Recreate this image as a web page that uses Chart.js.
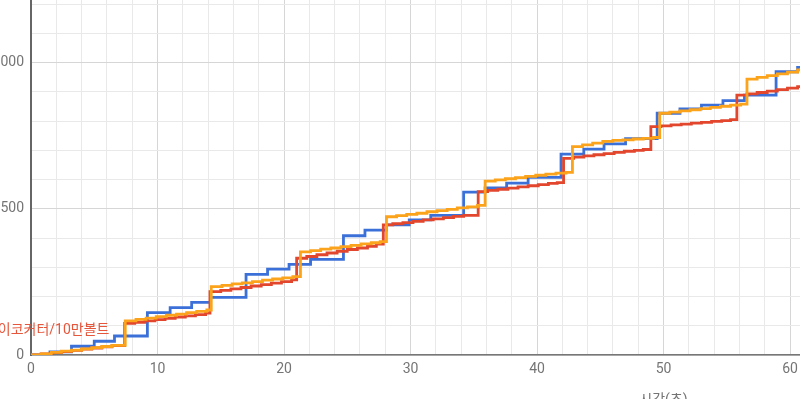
<!DOCTYPE html>
<html>
<head>
<meta charset="utf-8">
<script src="https://cdn.jsdelivr.net/npm/chart.js@4"></script>
<style>
  html, body { margin: 0; padding: 0; background: #fff; overflow: hidden; width: 800px; height: 399px; }
  #wrap { position: absolute; left: -40px; top: -30px; width: 1356px; height: 450px; }
</style>
</head>
<body>
<div id="wrap"><canvas id="myChart"></canvas></div>
<script>
// step times (s) and cumulative values
const blueT = [0, 1.5, 3.2, 5.0, 6.6, 9.2, 11.0, 12.7, 14.2, 17.0, 18.7, 20.4, 22.1, 24.7, 26.4, 28.1, 29.9, 31.6, 34.2, 35.9, 37.6, 39.3, 41.9, 43.7, 45.3, 47.0, 49.5, 51.3, 53.0, 54.7, 56.4, 58.9, 60.6, 62];
const blueV = [0, 11, 30, 47, 65, 145, 162, 180, 197, 276, 294, 310, 327, 408, 427, 445, 462, 478, 557, 572, 588, 608, 687, 704, 722, 740, 827, 842, 855, 870, 889, 969, 984, 984];

const redT = [0, 0.8, 1.6, 2.4, 3.2, 4.0, 4.8, 5.6, 6.4,
  7.4, 8.2, 9.0, 9.8, 10.6, 11.4, 12.2, 13.0, 13.8,
  14.15, 15.0, 15.8, 16.6, 17.4, 18.2, 19.0, 19.8, 20.6,
  21.0, 21.8, 22.6, 23.4, 24.2, 25.0, 25.8, 26.6, 27.3,
  27.85, 28.6, 29.4, 30.2, 31.0, 31.8, 32.6, 33.4, 34.2,
  35.35, 36.1, 36.9, 37.7, 38.5, 39.3, 40.1, 40.9, 41.6,
  42.1, 42.9, 43.7, 44.5, 45.3, 46.1, 46.9, 47.7, 48.4,
  49.0, 49.8, 50.6, 51.4, 52.2, 53.0, 53.8, 54.6, 55.3,
  55.8, 56.6, 57.4, 58.2, 59.0, 59.8, 60.6, 61.4, 62];
const redV = [0, 4, 8, 12, 16, 20, 24, 28, 32,
  108, 112, 117, 121, 125, 130, 134, 138, 143,
  217, 221, 226, 231, 236, 241, 246, 251, 257,
  331, 337, 343, 349, 355, 361, 366, 372, 379,
  445, 449, 453, 457, 462, 466, 470, 474, 478,
  559, 563, 567, 571, 575, 579, 583, 587, 590,
  673, 677, 681, 685, 689, 693, 697, 700, 703,
  781, 784, 787, 790, 793, 796, 799, 802, 805,
  889, 893, 898, 903, 908, 913, 918, 923, 923];

const orangeT = [0, 0.8, 1.6, 2.4, 3.2, 4.0, 4.8, 5.6, 6.4,
  7.45, 8.3, 9.1, 9.9, 10.7, 11.5, 12.3, 13.1, 13.9,
  14.25, 15.1, 15.9, 16.7, 17.5, 18.3, 19.1, 19.9, 20.7,
  21.3, 22.1, 22.9, 23.7, 24.5, 25.3, 26.1, 26.9, 27.6,
  28.1, 28.9, 29.7, 30.5, 31.3, 32.1, 32.9, 33.7, 34.5, 35.3,
  35.9, 36.7, 37.5, 38.3, 39.1, 39.9, 40.7, 41.5, 42.3,
  42.8, 43.6, 44.4, 45.2, 46.0, 46.8, 47.6, 48.4, 49.2,
  49.7, 50.5, 51.3, 52.1, 52.9, 53.7, 54.5, 55.3, 56.1,
  56.6, 57.4, 58.2, 59.0, 59.8, 60.6, 61.4, 62];
const orangeV = [0, 4, 9, 13, 17, 21, 25, 29, 33,
  117, 122, 126, 131, 136, 140, 145, 149, 154,
  234, 238, 243, 247, 251, 256, 260, 264, 268,
  353, 357, 362, 366, 371, 375, 380, 384, 388,
  473, 477, 481, 485, 490, 494, 498, 503, 507, 512,
  595, 599, 603, 607, 611, 615, 619, 622, 625,
  713, 719, 725, 731, 734, 736, 739, 741, 744,
  827, 831, 835, 839, 843, 847, 851, 855, 858,
  944, 950, 956, 962, 968, 975, 980, 980];

const xTitle = "시간(초)";
const redLabel = "이코커터/10만볼트";
const redLabelAt = [6.2, 85]; // where the label sits, in data units

const FONT = "Roboto, 'Noto Sans CJK KR', sans-serif";

function pts(ts, vs) {
  return ts.map((t, i) => ({ x: t, y: vs[i] }));
}

function line(label, color, ts, vs) {
  return {
    label: label,
    data: pts(ts, vs),
    borderColor: color,
    backgroundColor: color,
    borderWidth: 2.8,
    pointRadius: 0,
    stepped: "before",
    fill: false,
  };
}

//text label next to the red series
const redText = {
  id: "redText",
  afterDatasetsDraw(chart) {
    const { ctx, scales } = chart;
    ctx.save();
    ctx.font = "14px " + FONT;
    ctx.fillStyle = "#e6563b";
    ctx.textAlign = "right";
    ctx.textBaseline = "middle";
    ctx.fillText(redLabel, scales.x.getPixelForValue(redLabelAt[0]), scales.y.getPixelForValue(redLabelAt[1]));
    ctx.restore();
  },
};

const data = {
  datasets: [
    line("orange", "#fba31a", orangeT, orangeV),
    line(redLabel, "#e2462c", redT, redV),
    line("blue", "#3b70d8", blueT, blueV),
  ],
};

const config = {
  type: "line",
  data: data,
  options: {
    responsive: true,
    maintainAspectRatio: false,
    animation: false,
    layout: { padding: { left: 0, right: 20, top: 5, bottom: 0 } },
    plugins: { legend: { display: false }, tooltip: { enabled: false } },
    scales: {
      x: {
        type: "linear",
        min: 0,
        max: 100,
        ticks: {
          stepSize: 2,
          autoSkip: false,
          maxRotation: 0,
          padding: 6,
          color: "#757575",
          font: { family: FONT, size: 14 },
          callback: (v) => (v % 10 === 0 ? v : ""),
        },
        grid: {
          drawTicks: false,
          color: (c) => (c.tick && c.tick.value % 10 === 0 ? "#d6d6d6" : "#e9e9e9"),
        },
        border: { color: "#777", width: 1.5 },
        title: {
          display: true,
          text: xTitle,
          color: "#757575",
          font: { family: FONT, size: 14 },
          padding: { top: 0, bottom: 11 },
        },
        afterFit: (s) => {
          s.height = 65;
          s.paddingLeft = 0;
          s.paddingRight = 0;
        },
      },
      y: {
        min: 0,
        max: 1300,
        ticks: {
          stepSize: 100,
          padding: 7,
          color: "#757575",
          font: { family: FONT, size: 14 },
          callback: (v) => (v % 500 === 0 ? String(v) : ""),
        },
        grid: {
          drawTicks: false,
          color: (c) => (c.tick && c.tick.value % 500 === 0 ? "#d6d6d6" : "#e9e9e9"),
        },
        border: { color: "#666", width: 2 },
        afterFit: (s) => {
          s.width = 71;
          s.paddingTop = 0;
          s.paddingBottom = 0;
        },
      },
    },
  },
  plugins: [redText],
};

const myChart = new Chart(document.getElementById("myChart"), config);
</script>
</body>
</html>
